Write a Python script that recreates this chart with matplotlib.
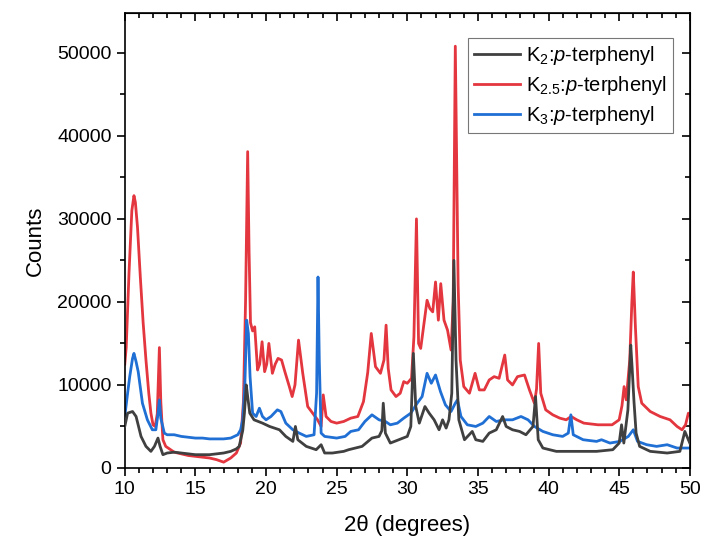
import matplotlib
matplotlib.use("Agg")
import matplotlib.pyplot as plt
from matplotlib.ticker import MultipleLocator

plt.rcParams['font.family'] = ['Liberation Sans', 'DejaVu Sans']
plt.rcParams['mathtext.fontset'] = 'custom'
plt.rcParams['mathtext.rm'] = 'Liberation Sans'
plt.rcParams['mathtext.it'] = 'Liberation Sans:italic'

# K2.5:p-terphenyl (red)
x_red = [10.0, 10.1, 10.3, 10.5, 10.65, 10.75, 10.9, 11.1, 11.3, 11.5, 11.7, 11.85, 12.0, 12.15, 12.3, 12.45,
         12.55, 12.7, 12.9, 13.5, 14.0, 14.5, 15.0, 15.5, 16.0, 16.5, 17.0, 17.5, 17.9, 18.2, 18.4, 18.55,
         18.7, 18.8, 18.9, 19.05, 19.2, 19.4, 19.55, 19.72, 19.9, 20.05, 20.2, 20.45, 20.65, 20.85, 21.1,
         21.35, 21.65, 21.85, 22.05, 22.3, 22.6, 22.95, 23.3, 23.65, 23.9, 24.05, 24.25, 24.6, 25.0, 25.5,
         26.0, 26.5, 26.9, 27.2, 27.45, 27.75, 28.1, 28.35, 28.5, 28.65, 28.85, 29.2, 29.5, 29.75, 30.0,
         30.3, 30.47, 30.65, 30.8, 30.95, 31.15, 31.4, 31.6, 31.8, 32.0, 32.2, 32.37, 32.6, 32.85, 33.1,
         33.25, 33.4, 33.5, 33.6, 33.75, 34.0, 34.4, 34.8, 35.1, 35.45, 35.8, 36.15, 36.5, 36.9, 37.1,
         37.45, 37.8, 38.3, 38.65, 39.0, 39.15, 39.3, 39.45, 39.8, 40.3, 40.8, 41.25, 41.6, 42.0, 42.5,
         43.5, 44.5, 45.0, 45.2, 45.35, 45.5, 45.75, 45.9, 46.0, 46.15, 46.35, 46.6, 47.2, 47.9, 48.6,
         49.1, 49.45, 49.7, 49.9, 50.0]
y_red = [12500, 14500, 23500, 31000, 32800, 32000, 29000, 23000, 17500, 13000, 9000, 6600, 5200, 5000, 6500, 14500,
         8000, 3400, 2600, 1900, 1700, 1500, 1400, 1300, 1200, 1000, 700, 1200, 1800, 3000, 8000, 20000,
         38100, 26000, 17500, 16500, 17000, 11800, 12500, 15200, 11600, 12500, 15000, 11400, 12500, 13200, 13000,
         11500, 9800, 8600, 10000, 15400, 11400, 7400, 6600, 5800, 5000, 8800, 6200, 5600, 5400, 5600,
         6000, 6200, 8000, 11500, 16200, 12200, 11400, 13000, 17200, 12000, 9400, 8600, 9000, 10400, 10200,
         10800, 15800, 30000, 15000, 14400, 17000, 20200, 19200, 18800, 22400, 17800, 22200, 17800, 16600, 14200,
         20000, 50800, 36000, 22000, 13000, 9800, 9000, 11400, 9400, 9400, 10600, 11000, 10800, 13600, 10600,
         10000, 11000, 11200, 9400, 7800, 9500, 15000, 9000, 7000, 6400, 6000, 5800, 6200, 5800, 5400,
         5200, 5200, 5800, 7500, 9800, 8200, 13000, 20000, 23600, 17000, 9800, 7800, 6800, 6200, 5800,
         5000, 4600, 5200, 6600, 6400]

# K3:p-terphenyl (blue)
x_blue = [10.0, 10.2, 10.35, 10.55, 10.65, 10.8, 10.95, 11.25, 11.6, 11.95, 12.2, 12.35, 12.45, 12.55, 12.8,
          13.0, 13.5, 14.0, 14.5, 15.0, 15.5, 16.0, 16.5, 17.0, 17.5, 18.0, 18.2, 18.35, 18.5, 18.63, 18.75,
          18.87, 19.05, 19.3, 19.53, 19.75, 20.0, 20.35, 20.8, 21.05, 21.4, 21.9, 22.35, 22.85, 23.4, 23.58,
          23.68, 23.77, 23.9, 24.15, 25.0, 25.6, 26.0, 26.55, 27.0, 27.5, 28.0, 28.45, 28.8, 29.3, 29.75,
          30.25, 30.7, 31.05, 31.4, 31.7, 32.0, 32.35, 32.7, 33.1, 33.4, 33.55, 33.8, 34.25, 34.85, 35.35,
          35.8, 36.3, 36.85, 37.45, 38.05, 38.55, 39.0, 39.6, 40.3, 41.0, 41.4, 41.58, 41.75, 42.45, 43.4,
          43.75, 44.35, 45.05, 45.65, 46.0, 46.3, 46.95, 47.65, 48.4, 49.1, 50.0]
y_blue = [6200, 9000, 11000, 13200, 13800, 12800, 11600, 7800, 5800, 4600, 4600, 6500, 8200, 6000, 4200,
          4000, 4000, 3800, 3700, 3600, 3600, 3500, 3500, 3500, 3600, 4000, 4600, 5800, 10000, 17800, 16200,
          11000, 6600, 6200, 7200, 6200, 5800, 6200, 7000, 6800, 5400, 4600, 4200, 3800, 4000, 9000,
          23000, 13000, 4200, 3800, 3600, 3800, 4400, 4600, 5600, 6400, 5800, 5600, 5200, 5400, 6000,
          6600, 7800, 8600, 11400, 10200, 11200, 9200, 7600, 6800, 7800, 8200, 6200, 5200, 5000, 5400,
          6200, 5600, 5800, 5800, 6200, 5800, 5000, 4400, 4000, 3800, 4200, 6400, 4000, 3400, 3200,
          3400, 3000, 3200, 3800, 4600, 3200, 2800, 2600, 2800, 2400, 2400]

# K2:p-terphenyl (dark grey)
x_blk = [10.0, 10.2, 10.55, 10.8, 11.15, 11.5, 11.85, 12.1, 12.35, 12.5, 12.7, 13.0, 13.5, 14.0, 14.5, 15.0,
         15.5, 16.0, 16.5, 17.0, 17.5, 17.9, 18.1, 18.35, 18.47, 18.6, 18.7, 18.85, 19.15, 19.75, 20.25,
         20.95, 21.4, 21.9, 22.08, 22.25, 22.85, 23.55, 23.9, 24.15, 24.7, 25.5, 25.85, 26.8, 27.5, 28.0,
         28.2, 28.3, 28.45, 28.8, 29.4, 30.0, 30.25, 30.43, 30.6, 30.85, 31.25, 31.55, 31.9, 32.25, 32.5,
         32.75, 32.95, 33.15, 33.3, 33.45, 33.65, 34.05, 34.6, 34.85, 35.35, 35.8, 36.3, 36.75, 37.0, 37.45,
         37.95, 38.4, 38.9, 39.08, 39.27, 39.6, 40.55, 42.0, 43.4, 44.55, 45.0, 45.17, 45.33, 45.62, 45.82,
         45.92, 46.05, 46.2, 46.45, 47.2, 48.4, 49.3, 49.65, 49.9, 50.0]
y_blk = [5000, 6600, 6800, 6200, 3800, 2600, 2000, 2600, 3600, 2600, 1600, 1800, 1900, 1800, 1700, 1600,
         1600, 1600, 1700, 1800, 2000, 2300, 2600, 4500, 6600, 10000, 8600, 6600, 5800, 5400, 5000,
         4600, 3800, 3200, 5000, 3400, 2600, 2200, 2800, 1800, 1800, 2000, 2200, 2600, 3600, 3800,
         4500, 7800, 4200, 3000, 3400, 3800, 5000, 13800, 7400, 5400, 7400, 6600, 5800, 4600, 5800,
         4800, 5800, 9000, 25000, 13000, 5800, 3400, 4400, 3400, 3200, 4200, 4600, 6200, 5000, 4600,
         4400, 4000, 5000, 8600, 3400, 2400, 2000, 2000, 2000, 2200, 3000, 5200, 3000, 7000, 14800,
         12000, 8000, 4200, 2600, 2000, 1800, 2000, 4400, 3400, 3000]

fig = plt.figure(figsize=(7.01, 5.41), dpi=100)
ax = fig.add_axes([0.178, 0.135, 0.806, 0.841])

ax.plot(x_red, y_red, color='#e3363e', lw=2.0, zorder=1, label=r'K$_{2.5}$:$p$-terphenyl')
ax.plot(x_blue, y_blue, color='#1f6fd4', lw=2.0, zorder=2, label=r'K$_3$:$p$-terphenyl')
ax.plot(x_blk, y_blk, color='#404040', lw=2.0, zorder=3, label=r'K$_2$:$p$-terphenyl')

ax.set_xlim(10, 50)
ax.set_ylim(0, 54800)
ax.xaxis.set_major_locator(MultipleLocator(5))
ax.xaxis.set_minor_locator(MultipleLocator(1))
ax.yaxis.set_major_locator(MultipleLocator(10000))
ax.yaxis.set_minor_locator(MultipleLocator(5000))
ax.tick_params(which='both', direction='out', labelsize=14, width=1.2, colors='black')
ax.tick_params(which='major', length=6)
ax.tick_params(which='minor', length=3.5)
for s in ax.spines.values():
    s.set_linewidth(1.2)

# ticks on top/right pointing inwards, no labels
sec = ax.secondary_xaxis('top')
sec.xaxis.set_major_locator(MultipleLocator(5))
sec.xaxis.set_minor_locator(MultipleLocator(1))
sec.tick_params(which='both', direction='in', labeltop=False, width=1.2)
sec.tick_params(which='major', length=6)
sec.tick_params(which='minor', length=3.5)
secy = ax.secondary_yaxis('right')
secy.yaxis.set_major_locator(MultipleLocator(10000))
secy.yaxis.set_minor_locator(MultipleLocator(5000))
secy.tick_params(which='both', direction='in', labelright=False, width=1.2)
secy.tick_params(which='major', length=6)
secy.tick_params(which='minor', length=3.5)

ax.set_xlabel('2θ (degrees)', fontsize=16, labelpad=12)
ax.set_ylabel('Counts', fontsize=16, labelpad=8)

h, l = ax.get_legend_handles_labels()
order = [2, 0, 1]
leg = ax.legend([h[i] for i in order], [l[i] for i in order], loc='upper right',
                bbox_to_anchor=(0.97, 0.945), fontsize=14.5, frameon=True, fancybox=False,
                edgecolor='#555555', handlelength=2.3, handletextpad=0.3, borderpad=0.3,
                labelspacing=0.35, borderaxespad=0.0)
leg.get_frame().set_linewidth(0.8)

fig.savefig('out.png', dpi=100)
